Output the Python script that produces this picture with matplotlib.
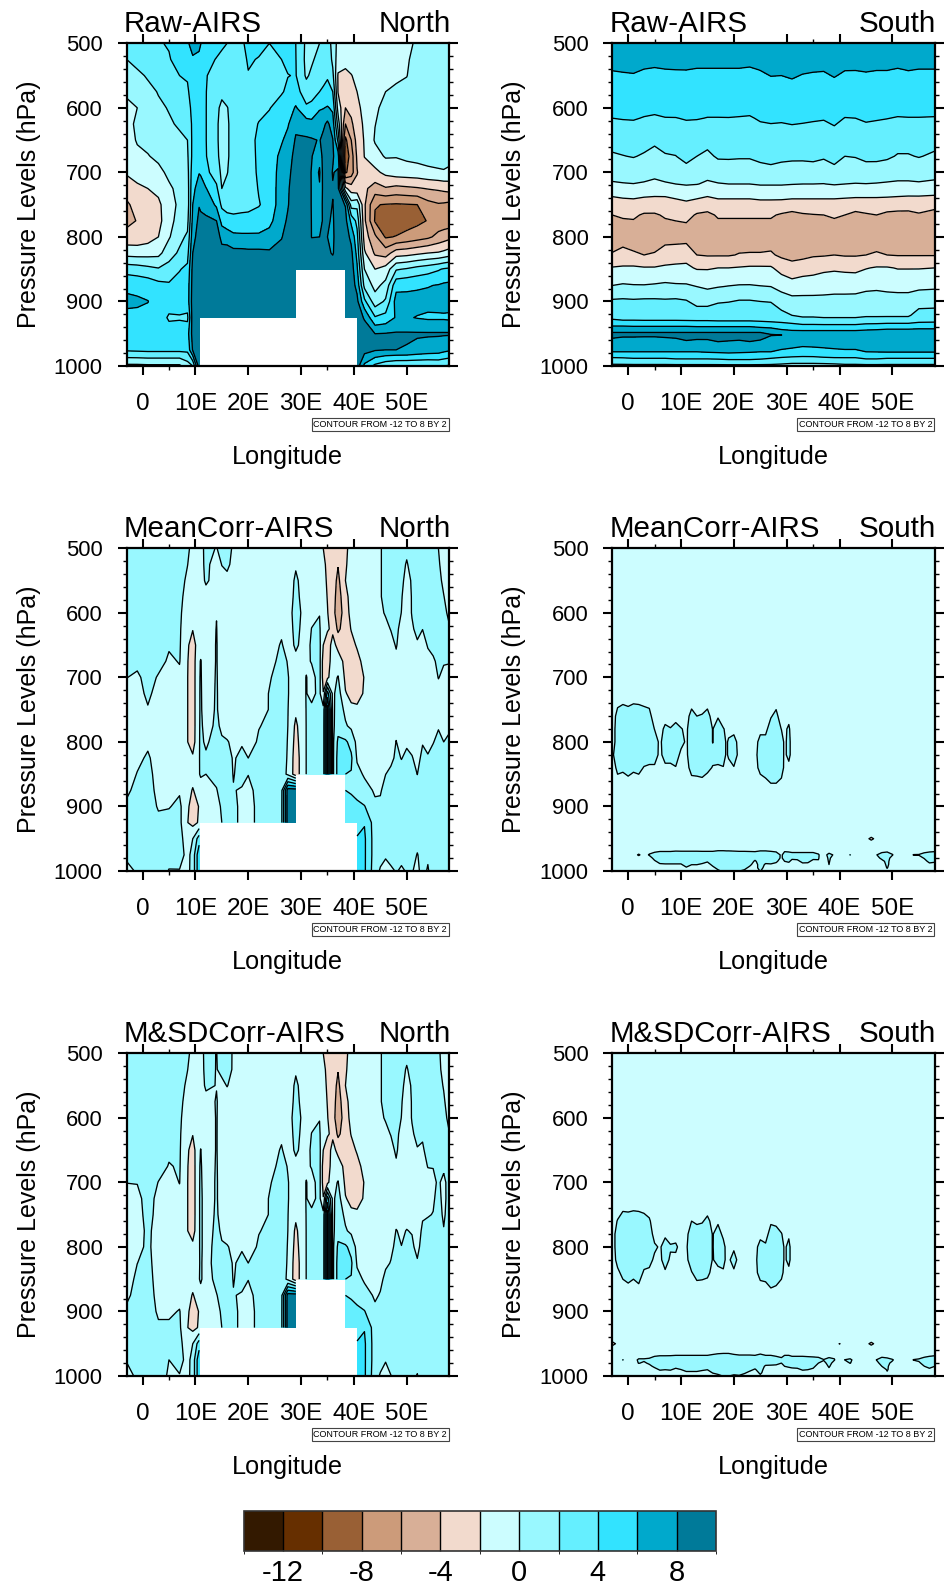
import numpy as np
import matplotlib
matplotlib.use('Agg')
import matplotlib.pyplot as plt
from matplotlib.colors import BoundaryNorm, ListedColormap
from matplotlib.cm import ScalarMappable

plt.rcParams['font.family'] = ['Liberation Sans', 'DejaVu Sans']
plt.rcParams['axes.unicode_minus'] = False

# BrownBlue12, one colour per interval of the -12..8 contours
colours = ['#331900', '#662F00', '#996035', '#CC9B7A', '#D8AF97', '#F2DACD',
           '#CCFDFF', '#99F8FF', '#65EFFF', '#32E3FF', '#00A9CC', '#007A99']
contour_levels = list(range(-12, 10, 2))

north_lon = [-3, -1, 1, 3, 5, 7, 8.5, 9.5, 10.7, 11, 12, 14, 15, 16, 17.2, 18.8, 20, 22, 24, 26.3, 27.5,
             29, 31, 32, 33.5, 34.2, 35, 36, 37, 38.4, 39.5, 40.6, 42, 44, 46, 48, 50, 52, 54, 56, 57, 58]
# the corrected panels zigzag more in the east, so they carry extra columns there
corr_lon = [-3, -1, 1, 3, 5, 7, 8.5, 9.5, 10.7, 11, 12, 14, 15, 16, 17.2, 18.8, 20, 22, 24, 26.3, 27.5,
            29, 31, 32, 33.5, 34.2, 35, 36, 37, 38.4, 39.5, 40.6, 42, 44, 45, 46, 47, 48, 49, 50, 51, 52, 53, 54, 55, 56, 57, 58]
north_p = list(range(500, 1001, 25))

# one list per longitude, top (500) to bottom (1000)
raw_north = [
    [2.6, 2.0, 1.1, 0.2, -0.3, -0.7, -1.0, -1.4, -1.8, -2.9, -4.4, -4.6, -3.2, -0.8, 3.2, 5.6, 6.4, 5.5, 5, 4.3, -0.5],
    [3.3, 2.6, 1.6, 0.9, 0, 0.4, 0.2, -0.5, -1.4, -2.3, -3.1, -3.9, -3.2, -0.9, 3, 5.4, 6.3, 5.5, 5, 4.4, -0.5],
    [3.6, 3, 2.2, 1.5, 1.1, 0.9, 0.5, -0.1, -1.2, -2, -2.9, -3.3, -2.8, -0.8, 2.6, 5.2, 6.05, 5.4, 5, 4.5, -0.4],
    [3.9, 3.3, 2.7, 2.1, 1.7, 1.4, 1, 0.4, -0.5, -1.5, -2.4, -2.6, -2, -0.6, 2.2, 4.6, 5.2, 5.2, 5, 4.5, -0.4],
    [4.1, 3.9, 3.4, 2.7, 2.1, 1.8, 1.5, 1, 0.4, -0.3, -0.8, -0.7, -0.2, 1.2, 2.7, 4.3, 5, 3.7, 5, 4.5, -0.4],
    [4.8, 4.5, 4, 3.5, 3, 2.2, 1.7, 1.3, 0.9, 0.5, 0.4, 0.8, 1.5, 2.3, 3.9, 4.6, 5, 3.8, 5, 4.5, -0.4],
    [5.9, 5, 4.2, 3.7, 3.2, 2.4, 2, 1.7, 1.3, 1, 0.9, 1.4, 2.3, 3.3, 4.4, 4.9, 5, 3.6, 5.2, 4.5, 1],
    [6.3, 5.9, 5.4, 5, 4.6, 4.5, 4.5, 4.6, 5.2, 5.7, 6, 6.6, 7.3, 8, 8.6, 8.8, 9, 9, 8.8, 8.2, 2],
    [6.2, 5.8, 5.3, 4.9, 4.7, 4.7, 4.8, 5.2, 5.95, 6.5, 7.9, 8.5, 8.9, 9, 9, 9, 9, 9, 9, 9, 9],
    [6.05, 5.5, 4.9, 4.5, 4.4, 4.4, 4.5, 4.8, 5.9, 6.4, 7.7, 8.4, 8.8, 9, 9, 9, 9, 9, 9, 9, 9],
    [5.4, 4.6, 4.1, 4.05, 4.05, 4.05, 4.05, 4.1, 4.5, 6.1, 7.6, 8.2, 8.8, 9, 9, 9, 9, 9, 9, 9, 9],
    [4.7, 3.9, 3.3, 2.8, 2.3, 2.3, 2.3, 2.4, 3, 4.4, 5.6, 8, 8.9, 9, 9, 9, 9, 9, 9, 9, 9],
    [4.3, 3.6, 2.9, 2.3, 1.7, 1.3, 1.3, 1.4, 1.6, 2, 3.6, 5.3, 7.5, 8.6, 9, 9, 9, 9, 9, 9, 9],
    [4.0, 3.5, 3, 2.5, 1.95, 1.85, 1.85, 1.85, 1.95, 2.3, 3.1, 4.9, 7, 9, 9, 9, 9, 9, 9, 9, 9],
    [3.6, 3.3, 3, 2.6, 2.4, 2.4, 2.4, 2.4, 2.5, 2.7, 3.3, 4.5, 6.5, 8.6, 9, 9, 9, 9, 9, 9, 9],
    [3.7, 3.4, 3.3, 3, 2.9, 2.9, 2.9, 2.9, 2.9, 3, 3.4, 4.6, 6.4, 8.6, 9, 9, 9, 9, 9, 9, 9],
    [4.6, 4.2, 3.9, 3.3, 3.2, 3.1, 3.1, 3.1, 3.1, 3.1, 3.5, 4.6, 6.4, 8.5, 9, 9, 9, 9, 9, 9, 9],
    [4.5, 3.9, 3.4, 3.2, 3.4, 4.1, 4.5, 4.4, 4.3, 4.1, 3.9, 4.7, 6.4, 8.5, 9, 9, 9, 9, 9, 9, 9],
    [4.0, 3.4, 3.1, 3.4, 3.9, 4.6, 4.8, 4.9, 4.9, 4.8, 4.6, 5.4, 6.8, 8.3, 9, 9, 9, 9, 9, 9, 9],
    [4.8, 4.0, 3.4, 3.8, 4.9, 5.4, 5.8, 6.5, 6.8, 7, 7.2, 7.5, 7.9, 8.6, 9, 9, 9, 9, 9, 9, 9],
    [5.1, 4.4, 3.95, 4.4, 5, 5.8, 6.6, 7.2, 7.5, 7.8, 7.9, 8.2, 8.7, 9, 9, 9, 9, 9, 9, 9, 9],
    [4.0, 4.05, 4.1, 4.7, 6.2, 7.6, 8.2, 8.6, 8.9, 9, 9, 9, 9, 9, 9, 9, 9, 9, 9, 9, 9],
    [1.6, 1.5, 1.7, 3, 4.3, 6.9, 8.3, 8.6, 8.8, 9, 9, 9, 9, 9, 9, 9, 9, 9, 9, 9, 9],
    [1.5, 1.7, 2.4, 3.3, 4.5, 6.6, 8.2, 8.1, 7.9, 7.9, 7.9, 7.95, 7.97, 8.6, 9, 9, 9, 9, 9, 9, 9],
    [2.0, 2.7, 3.3, 4.0, 5.8, 7.1, 7.9, 6.7, 5.7, 6.2, 7.2, 7.7, 8.0, 8.5, 9, 9, 9, 9, 9, 9, 9],
    [2.8, 3.2, 3.6, 4.2, 5.9, 7.6, 8.5, 8.7, 8.7, 8.5, 8.3, 8.1, 8.1, 8.6, 9, 9, 9, 9, 9, 9, 9],
    [3.5, 3.7, 3.9, 4.3, 6.2, 8.4, 8.8, 8.9, 8.9, 8.5, 8.4, 8.2, 8.0, 8.3, 9, 9, 9, 9, 9, 9, 9],
    [1, 1.5, 2.5, 4, 5.6, 7, 8.1, 8.2, 7.9, 8.1, 7.95, 7.8, 7.7, 7.85, 9, 9, 9, 9, 9, 9, 9],
    [-0.5, -1, -2.2, -2.1, -0.8, 1.2, 3.5, 7, 8.3, 8.5, 8.7, 9, 9, 9, 9, 9, 9, 9, 9, 9, 9],
    [-0.8, -1.2, -2.6, -3.2, -4, -6, -8.5, -9.5, -8.3, -1.5, 7.9, 8.6, 9, 9, 9, 9, 9, 9, 9, 9, 9],
    [-0.6, -0.9, -2.1, -2.7, -3.4, -4.4, -6, -7, -7, -3, 1, 5.5, 7.5, 8.5, 9, 9, 9, 9, 9, 9, 9],
    [-0.5, -0.8, -1.4, -2, -2.4, -2.8, -3.2, -3.7, -4.1, -3.4, 1.5, 3.4, 4.6, 5.4, 6.3, 7.4, 8.5, 9, 9, 9, 9],
    [-0.5, -0.7, -0.9, -1.3, -1.5, -1.7, -1.85, -1.95, -2.7, -3.6, -3.7, -3.6, -3, -1.7, 0, 1.4, 4.5, 7.8, 9, 8.8, 5.5],
    [-0.8, -0.8, -0.8, -0.6, -0.3, -0.05, 0.2, -0.8, -2.5, -4.9, -7.9, -8.2, -5.6, -4.3, -2.0, -0.6, 0.9, 4.2, 8, 8.2, 3.5],
    [-0.6, -0.5, -0.3, 0, 0.5, 0.8, 0.8, 0.2, -1.5, -4.2, -8.1, -8.8, -8.2, -4.9, -1.2, 0.6, 2.3, 4.7, 8.1, 8, 2.5],
    [-0.5, -0.4, -0.2, 0.2, 0.8, 1, 1, 0.1, -1, -4.6, -8.2, -9.2, -7.9, -3, 1.8, 5.4, 6.8, 6.2, 8.2, 8, 2],
    [-0.3, -0.2, -0.05, 0.5, 1, 1.2, 1.2, 0.4, -0.9, -4.4, -8.1, -8.9, -7.4, -2.8, 2.2, 5.6, 6.6, 6.2, 8.2, 7.9, 2],
    [0.2, 0.6, 0.9, 1.1, 1.3, 1.4, 1.4, 0.6, -0.8, -4.2, -8.0, -8.5, -6.9, -2.4, 2.8, 5.7, 6.7, 5.9, 8.2, 7.5, 2],
    [1, 1.1, 1.2, 1.3, 1.4, 1.4, 1.4, 0.8, -0.5, -3.9, -6.7, -7.9, -6.4, -2, 3.2, 5.9, 6.6, 5.7, 8.2, 7.2, 2],
    [1.2, 1.3, 1.3, 1.4, 1.4, 1.4, 1.4, 0.9, -0.3, -3.7, -6.2, -7.2, -5.4, -1.8, 3.8, 6.1, 6.7, 5.7, 8.2, 7, 2.2],
    [1.3, 1.4, 1.4, 1.4, 1.5, 1.5, 1.5, 0.9, -0.2, -3.5, -6.3, -7.2, -5, -1.5, 4.2, 6.3, 6.8, 5.7, 8.2, 6.6, 2],
    [1.4, 1.4, 1.4, 1.4, 1.5, 1.5, 1.5, 0.7, -0.4, -3.3, -6.5, -7.2, -4.6, -1.1, 4.4, 6.4, 6.9, 5.6, 8.2, 6.3, 1.8],
]

mean_north = [
    [1, 1, 1, 1, 1, 1, 1, .6, .05, -1, -1, -1, -1, -1, -1, -.5, .5, 1, 1, .7, -1],
    [1, 1, 1, 1, 1, 1, 1, .6, -.4, -.9, -1, -1, -1, -.5, .1, .8, 1, 1, 1, 1, .4],
    [1, 1, 1, 1, 1, 1, 1, 1, .8, .5, -.2, -.8, -.4, .3, .8, 1, 1, 1, 1, 1, .8],
    [1, 1, 1, 1, 1, 1, 1, .7, -.2, -.9, -1, -1, -1, -1, -1, -.7, -.2, .5, 1, 1, 1],
    [1, 1, 1, 1, .9, .7, .2, -.3, -.8, -1, -1, -1, -1, -1, -1, -.4, -.1, .6, 1, .7, -.1],
    [1, 1, .8, .5, .3, .2, .2, .1, -.4, -1, -1, -1, -1, -1, -1, -.2, .4, .5, .8, .8, -.1],
    [.5, .05, -.4, -.7, -.9, -1.1, -1.7, -1.9, -1.95, -1.95, -1.95, -1.95, -1.95, -1.9, -1.2, -1, -1.6, -1.95, -1.2, -.6, -.5],
    [-.8, -.9, -1, -1, -1.2, -1.9, -2.9, -3, -3, -3, -3, -3, -2.9, -1.7, -1, -2.2, -3, -2.6, 0, .7, .7],
    [-.7, -.8, -.9, -1, -1, -1, -.9, -.3, -.2, -.2, -.2, -.2, -.2, -.2, -.1, -.8, -1.9, -1.8, 3, 5.5, 5.5],
    [-.7, -.7, -.8, -1, -1, -1, -.8, .1, .15, .2, .2, .3, .4, .5, .2, -.8, -1, -1, -1, -1, -1],
    [.6, .5, .3, -.8, -1, -1, -1, -1, -1, -1, -.8, -.6, -.3, .3, 0, -.8, -1, -1, -1, -1, -1],
    [-.1, -.9, -.8, -.5, -.05, .05, .1, .1, .15, .2, .2, .3, .8, 1, .5, -.1, -.8, -1, -1, -1, -1],
    [.8, .05, -.6, -.7, -.8, -.9, -.9, -.9, -.9, -.9, -.8, -.3, .2, .9, 1, .7, .3, 0, -1, -1, -1],
    [1, .3, -.4, -.8, -1, -1, -1, -1, -1, -1, -1, -.6, .1, .8, 1, 1, 1, 1, -1, -1, -1],
    [-.4, -.4, -1, -1, -1, -1, -1, -1, -1, -1, -1, -.9, -.3, -.2, -.1, .1, 1, 1, -1, -1, -1],
    [-1, -1, -1, -1, -1, -1, -1, -1, -1, -1, -1, -1, -.2, .5, .7, -.2, -1, -1, -1, -1, -1],
    [-1, -1, -1, -1, -1, -1, -1, -1, -1, -1, -1, -1, -1, 0, .05, -.6, -1, -1, -1, -1, -1],
    [-1, -1, -1, -1, -1, -1, -1, -1, -1, -1, -.9, -.1, .3, .6, .7, .7, .7, .7, -1, -1, -1],
    [-1, -1, -1, -1, -1, -1, -1, -.7, -.2, .1, .1, .4, .7, 1, 1, 1, 1, 1, -1, -1, -1],
    [-1, -1, -1, -1, -1, -.4, .2, .6, 1, 1, 1, 1, 1, 1, 1, 1.5, 1.6, 1.6, -1, -1, -1],
    [-1, -1, -1, -1, -1, -1, -.9, -.1, .1, .1, .05, 0, -.1, -.2, -.4, 9, 9, 9, -1, -1, -1],
    [-1, -.2, .3, .5, .9, .6, .3, -.5, -1, -1, -1.6, -2.4, -2.7, -3, -3, 9, 9, 9, -1, -1, -1],
    [-1, -1, -1, -1, -1, -1, -.9, -.3, .05, .05, .05, .05, .05, .05, .05, -1, -1, -1, -1, -1, -1],
    [-1, -1, -1, -1, -.6, .05, .4, .1, -.5, -.4, .3, .7, .8, .9, .9, -1, -1, -1, -1, -1, -1],
    [-1, -1, -1, -.9, -.05, .2, .5, .6, .6, .4, .2, .7, .8, .9, .9, -1, -1, -1, -1, -1, -1],
    [-2, -1.6, -1.3, -1.1, -1, -1.2, -2, -2.8, -2.8, -1.9, .6, .8, .8, .8, .8, -1, -1, -1, -1, -1, -1],
    [-2.6, -2.4, -2.3, -2.1, -1.9, -1.8, -3, -3, -2.5, 5, 9, 9, 9, 9, 9, -1, -1, -1, -1, -1, -1],
    [-3, -3, -3, -3.2, -3.4, -2.4, -1.3, -1, -.5, -.5, -.5, -.5, -.5, -.5, -.5, -1, -1, -1, -1, -1, -1],
    [-3, -3.9, -4.5, -4.8, -4.9, -4.4, -2.6, -1, .1, .9, 1, 1.2, 2.4, 2.8, 2.8, -1, -1, -1, -1, -1, -1],
    [-2.6, -2.3, -2, -2.8, -3.2, -3, -2.7, -2.6, -2.4, -1.9, -.4, .2, 2.3, 2.5, 2, 2, 2.3, 3, 3, 3, 3],
    [-1, -1, -1, -1, -1.2, -1.9, -2.6, -3, -3, -2.4, -1.7, -.4, 1.4, 2.3, 1.9, 1.9, 2.3, 3, 3, 3, 3],
    [-1, -1, -1, -1, -1, -1, -1.8, -2.6, -3, -3, -1.5, -1, -.6, -.2, .5, 1.7, 2.2, 3, 4.2, 4.3, 4.3],
    [-1, -1, -1, -1, -1, -1, -1.1, -1.4, -1.9, -1.7, -1, -1, -1, -.8, -.2, .6, 2.1, 3.9, 4.3, 4.3, 4.3],
    [-1, -1, -1, -1, -1, -1, -1, -1, -1, -1, -1, -1, -1, -1, -.8, -.2, .3, 1, 1, 1, .8],
    [-.1, -.1, -.1, -.1, -.2, -.6, -1, -1, -1, -1, -1, -1, -1, -1, -.7, -.2, .4, 1, 1, .6, -.2],
    [.4, .4, .4, .4, .1, -.3, -.6, -.8, -1, -1, -1, -1, -.8, -.4, -.02, .7, 1, 1, .6, .1, -.3],
    [.6, .6, .6, .6, .4, .05, -.4, -.7, -1, -1, -1, -1, -1, -.4, .4, 1, 1, 1, 1, .6, -.3],
    [.9, .9, .9, .7, .5, .3, .1, -.3, -.7, -1, -1, -.5, .05, .3, .6, 1, 1, 1, 1, .5, .1],
    [.8, .7, .4, .1, -.02, -.4, -.6, -.8, -.9, -1, -1, -1, -.7, -.05, .5, 1, 1, 1, 1, .4, -.2],
    [.5, -.2, -.6, -.7, -.8, -.8, -.8, -.8, -.8, -.8, -.8, -.7, -.2, .3, .8, 1, 1, 1, 1, .9, .1],
    [.9, .8, .2, .1, .1, -.2, -.5, -.7, -.8, -.9, -.9, -.9, -.5, .1, .7, 1, 1, 1, 1, .7, .1],
    [1, 1, .9, .8, .7, .4, -.2, -.6, -.8, -.9, -.9, -.9, -.8, -.5, -.02, .7, 1, 1, .7, -.1, -.4],
    [1, 1, .9, .9, .7, .02, -.5, -.7, -.9, -.9, -.9, -.7, -.1, .4, .8, 1, 1, 1, 1, .7, .6],
    [1, 1, .9, .9, .8, .7, .1, -.4, -.7, -.8, -.8, -.6, -.3, .1, .7, 1, 1, 1, 1, .3, -.2],
    [1, 1, .9, .9, .8, .7, .4, -.2, -.6, -.8, -.7, -.4, -.05, .4, .9, 1, 1, 1, 1, 1, 1],
    [0, .2, .4, .5, .6, .7, .6, .3, .05, -.5, -.6, -.1, .3, .6, .9, 1, 1, 1, 1, 1, 1],
    [-.8, -.6, -.3, .05, .4, .5, .5, .1, -.3, -.8, -.9, -.6, 0, .5, 1, 1, 1, 1, 1, 1, 1],
    [-1, -1, -.8, -.6, -.3, .2, .3, .1, -.5, -1, -1, -.2, .2, .6, .9, 1, 1, 1, 1, 1, .9],
]

msd_north = [
    [1, 1, 1, 1, 1, 1, 1, .6, .05, -1, -1, -1, -1, -1, -1, -.5, .5, 1, 1, .2, -1],
    [1, 1, 1, 1, 1, 1, 1, .9, .1, -.7, -1, -1, -.6, -.02, .5, .9, 1, 1, 1, 1, .5],
    [1, 1, 1, 1, 1, 1, 1, 1, 1, 1, .9, .5, .4, .6, .9, 1, 1, 1, 1, 1, .9],
    [1, 1, 1, 1, 1, 1, 1, .7, -.05, -.7, -.9, -1, -1, -1, -1, -.7, -.3, .3, 1, 1, 1],
    [1, 1, 1, 1, .9, .7, .3, -.1, -.7, -1, -1, -1, -1, -1, -1, -.6, -.3, .3, .7, 0, -.3],
    [1, 1, .8, .5, .3, .2, .2, .15, .05, -.5, -1, -1, -1, -1, -1, -.6, .1, .3, .6, .6, -.1],
    [.5, .05, -.4, -.7, -.9, -1.1, -1.7, -1.9, -1.95, -1.95, -1.95, -1.95, -1.9, -1.2, -1.1, -1, -1.6, -1.95, -1.2, -.6, -.5],
    [-.8, -.9, -1, -1, -1.2, -1.9, -2.9, -3, -3, -3, -3, -2.9, -1.5, -1, -1, -2.2, -3, -2.6, 0, .7, .7],
    [-.7, -.8, -.9, -1, -1, -.8, -.3, -.2, -.2, -.2, -.2, -.2, -.2, -.2, -.1, -.8, -1.9, -1.8, 3, 5.5, 5.5],
    [-.7, -.7, -.8, -1, -1, -.6, .05, .2, .3, .4, .4, .4, .4, .3, .3, -.8, -1, -1, -1, -1, -1],
    [.6, .5, .3, -.6, -1, -1, -1, -1, -1, -1, -1, -1, -1, -1, -1, -1, -1, -1, -1, -1, -1],
    [-.05, -.05, -.05, .1, .1, .1, .1, .15, .2, .2, .3, .5, .8, 1, .6, -.1, -.7, -1, -1, -1, -1],
    [.8, .3, -.3, -.6, -.8, -.9, -.9, -.9, -.9, -.9, -.8, -.3, .2, .9, 1, .7, .3, 0, -1, -1, -1],
    [1, .9, .05, -.6, -.9, -1, -1, -1, -1, -1, -1, -.6, .1, .8, 1, 1, 1, 1, -1, -1, -1],
    [-.3, -.3, -.4, -.8, -1, -1, -1, -1, -1, -1, -1, -.9, -.3, -.2, -.1, .1, 1, 1, -1, -1, -1],
    [-1, -1, -1, -1, -1, -1, -1, -1, -1, -1, -1, -1, -.2, .5, .7, -.2, -1, -1, -1, -1, -1],
    [-1, -1, -1, -1, -1, -1, -1, -1, -1, -1, -1, -1, -1, 0, .05, -.6, -1, -1, -1, -1, -1],
    [-1, -1, -1, -1, -1, -1, -1, -1, -1, -1, -.9, -.1, .3, .6, .7, .7, .7, .7, -1, -1, -1],
    [-1, -1, -1, -1, -1, -1, -1, -.7, -.2, .1, .1, .4, .7, 1, 1, 1, 1, 1, -1, -1, -1],
    [-1, -1, -1, -1, -1, -.4, .2, .6, 1, 1, 1, 1, 1, 1, 1, 1.5, 1.6, 1.6, -1, -1, -1],
    [-1, -1, -1, -1, -1, -1, -.9, -.1, .1, .1, .05, 0, -.1, -.2, -.4, 9, 9, 9, -1, -1, -1],
    [-1, -.2, .3, .5, .9, .6, .3, -.5, -1, -1, -1.6, -2.4, -2.7, -3, -3, 9, 9, 9, -1, -1, -1],
    [-1, -1, -1, -1, -1, -1, -.9, -.3, .05, .05, .05, .05, .05, .05, .05, -1, -1, -1, -1, -1, -1],
    [-1, -1, -1, -1, -.6, .05, .4, .1, -.5, -.4, .3, .7, .8, .9, .9, -1, -1, -1, -1, -1, -1],
    [-1, -1, -1, -.9, -.05, .2, .5, .6, .6, .4, .2, .7, .8, .9, .9, -1, -1, -1, -1, -1, -1],
    [-2, -1.6, -1.3, -1.1, -1, -1.2, -2, -2.8, -2.8, -1.9, .6, .8, .8, .8, .8, -1, -1, -1, -1, -1, -1],
    [-2.6, -2.4, -2.3, -2.1, -1.9, -1.8, -3, -3, -2.5, 5, 9, 9, 9, 9, 9, -1, -1, -1, -1, -1, -1],
    [-3, -3, -3, -3.2, -3.4, -2.4, -1.3, -1, -.5, -.5, -.5, -.5, -.5, -.5, -.5, -1, -1, -1, -1, -1, -1],
    [-3, -3.9, -4.5, -4.8, -4.9, -4.4, -2.6, -1, .1, .9, 1, 1.2, 2.4, 2.8, 2.8, -1, -1, -1, -1, -1, -1],
    [-2.6, -2.3, -2, -2.8, -3.2, -3, -2.7, -2.6, -2.4, -1.9, -.4, .2, 2.3, 2.5, 2, 2, 2.3, 3, 3, 3, 3],
    [-1, -1, -1, -1, -1.2, -1.9, -2.6, -3, -3, -2.4, -1.7, -.4, 1.4, 2.3, 1.9, 1.9, 2.3, 3, 3, 3, 3],
    [-1, -1, -1, -1, -1, -1, -1.8, -2.6, -3, -3, -1.5, -1, -.6, -.2, .5, 1.7, 2.2, 3, 4.2, 4.3, 4.3],
    [-1, -1, -1, -1, -1, -1, -1.1, -1.4, -1.9, -1.7, -1, -1, -1, -.8, -.2, .6, 2.1, 3.9, 4.3, 4.3, 4.3],
    [-1, -1, -1, -1, -1, -1, -1, -1, -1, -1, -1, -1, -1, -1, -.8, -.2, .3, 1, 1, 1, .8],
    [-.1, -.1, -.1, -.1, -.2, -.6, -1, -1, -1, -1, -1, -1, -1, -.8, -.3, .1, .6, 1, 1, .7, -.2],
    [.4, .4, .4, .4, .1, -.3, -.6, -.8, -1, -1, -1, -1, -.7, -.2, .3, .8, 1, 1, .6, .05, -.3],
    [.6, .6, .6, .6, .4, .05, -.4, -.7, -1, -1, -1, -.7, -.2, .05, .6, 1, 1, 1, 1, .7, -.05],
    [.9, .9, .9, .7, .5, .35, .2, -.2, -.7, -1, -.5, .05, .2, .6, 1, 1, 1, 1, 1, 1, .8],
    [.8, .7, .4, .1, -.02, -.4, -.6, -.8, -.9, -1, -.7, -.2, .02, .5, 1, 1, 1, 1, 1, 1, 1],
    [.6, -.2, -.6, -.7, -.8, -.8, -.8, -.8, -.8, -.8, -.5, .05, .3, .6, 1, 1, 1, 1, 1, 1, 1],
    [.9, .8, .2, .1, .1, -.2, -.5, -.7, -.8, -.8, -.5, -.1, .3, .7, 1, 1, 1, 1, 1, .8, .6],
    [1, 1, .9, .8, .7, .4, -.1, -.5, -.8, -.9, -.9, -.8, -.5, .2, .8, 1, 1, 1, 1, .6, -.1],
    [1, 1, .9, .9, .7, .2, -.2, -.5, -.6, -.5, -.2, .3, .7, 1, 1, 1, 1, 1, 1, 1, 1],
    [1, 1, .9, .9, .8, .7, .5, .05, -.5, -.3, -.1, .5, .7, 1, 1, 1, 1, 1, 1, .6, .3],
    [1, 1, .9, .9, .8, .7, .6, .05, -.3, -.2, .05, .6, .8, 1, 1, 1, 1, 1, 1, 1, 1],
    [.3, .4, .5, .6, .7, .7, .7, .6, .2, .5, .7, 1, 1, 1, 1, 1, 1, 1, 1, 1, 1],
    [-.7, -.5, -.1, .2, .4, .5, .5, .3, -.4, -.5, -.3, .1, .5, 1, 1, 1, 1, 1, 1, 1, 1],
    [-1, -1, -.9, -.7, -.3, .1, .3, .5, .6, .7, .8, .9, 1, 1, 1, 1, 1, 1, 1, 1, 1],
]

raw_south_lon = [-3, -1, 1, 3, 5, 7, 9, 11, 13, 15, 17, 19, 21, 23, 25, 27, 29, 31, 33, 35,
                 37, 39, 41, 43, 45, 47, 49, 51, 53, 55, 58]
raw_south_p = [500, 541, 580, 616, 675, 718, 741, 766, 797, 828, 848, 877, 898, 921.5, 929, 939, 948, 952, 957, 978, 989, 1000]
raw_south = [
    [7.2, 6.04, 5, 4, 1.76, -.18, -2.32, -4, -5, -3.85, -1.87, .12, 2.12, 3.57, 4.1, 6.2, 8, 8.5, 8, 6, 3.55, 1.5],
    [7.2, 6.11, 5, 4.08, 1.94, -.09, -2.09, -3.79, -5, -3.35, -1.77, .32, 2.2, 3.54, 4, 6.2, 8, 8.5, 7.7, 6, 3.64, 1.5],
    [7.2, 6.17, 5, 4.11, 2.1, -.03, -2, -3.71, -5, -3.75, -1.7, .2, 2.12, 3.53, 4, 6.1, 8, 8.5, 7.7, 6, 3.82, 1.5],
    [7.2, 5.97, 5, 3.93, 1.8, -.15, -2.23, -4.21, -5, -4, -1.87, .2, 2.2, 3.52, 3.95, 6.1, 8, 8.5, 7.6, 6, 3.82, 1.5],
    [7.2, 5.89, 5, 3.82, 1.34, -.3, -2.32, -4.21, -5, -3.85, -1.87, .32, 2.2, 3.52, 3.95, 6.1, 8, 8.5, 7.6, 6, 3.82, 1.5],
    [7.2, 5.97, 5, 3.96, 1.84, -.15, -2.32, -3.79, -5, -3, -1.73, .48, 2.12, 3.56, 3.95, 6.1, 8, 8.5, 7.85, 6, 3.82, 1.5],
    [7.2, 6, 5, 3.97, 1.96, 0, -2, -3.58, -5, -2.85, -1.64, .32, 2.2, 3.52, 3.95, 6.1, 8, 8.5, 8, 6, 4, 1.5],
    [7.2, 6.01, 5, 4.08, 2.64, .15, -1.78, -3.37, -5, -2.65, -1.64, .28, 2, 3.45, 3.9, 6.1, 8, 8.5, 8.4, 6, 4, 1.5],
    [7.2, 5.93, 5, 4.08, 2, .06, -2, -4.21, -5, -4, -2.18, 0, 1.2, 3.16, 3.85, 6, 8, 8.5, 8.2, 6, 4, 1.5],
    [7.2, 5.93, 5, 3.96, 1.6, -.24, -2.32, -4.42, -5, -4.15, -2.18, -.28, 1.2, 3.16, 3.85, 6, 8, 8.5, 8.2, 6.15, 4, 1.5],
    [7.2, 5.93, 5, 3.96, 2.24, -.09, -2, -3.79, -5, -4.15, -2, -.08, 1.68, 3.3, 3.75, 6, 8, 8.5, 8.6, 6.25, 4.09, 1.5],
    [7.2, 5.93, 5, 3.97, 2.26, 0, -2, -3.79, -5, -4.15, -2, .08, 1.8, 3.33, 3.75, 6, 8, 8.5, 8.4, 6.35, 4.27, 1.5],
    [7.2, 5.93, 5, 3.93, 2.2, 0, -2, -3.79, -5, -3.9, -1.87, .2, 2, 3.38, 3.75, 6, 8, 8.5, 8.3, 6.25, 4.27, 1.5],
    [7.2, 5.86, 5, 3.88, 2.2, 0, -2, -3.79, -5, -3.85, -1.73, .2, 2, 3.38, 3.75, 6, 8, 8.5, 8.6, 6.15, 4.27, 1.5],
    [7.2, 6.03, 5, 4.15, 2.54, .15, -1.87, -3.79, -5, -3.85, -1.73, .08, 1.88, 3.31, 3.65, 5.7, 8, 8.5, 8.3, 6, 4.09, 1.5],
    [7.2, 6.35, 5, 4.2, 2.8, .15, -1.87, -3.79, -5, -3.75, -1.77, 0, 1.8, 3.23, 3.5, 5.5, 7.7, 8.1, 7.6, 6, 3.82, 1.5],
    [7.2, 6.3, 5, 4.2, 2.5, .15, -1.87, -4.21, -5, -4.35, -2.77, -.55, .83, 2.6, 3.4, 5.1, 6.9, 8.02, 7.2, 5.75, 3.55, 1.4],
    [7.2, 6.58, 5, 4.33, 2.4, .06, -2, -4.54, -5, -4.6, -3.32, -1.06, .5, 2, 3.1, 4.9, 6.6, 7.2, 7.2, 5.55, 3.37, 1.2],
    [7.2, 6.21, 5, 4.25, 2.4, 0, -2, -4.21, -5, -4.5, -2.98, -.83, .43, 1.71, 2.56, 4.74, 6.6, 7, 7.2, 5.25, 3.37, 1.2],
    [7.2, 6.11, 5, 4.15, 2.5, 0, -2, -4.08, -5, -4.2, -2.76, -.8, .43, 1.71, 2.56, 4.74, 6.6, 7, 7.2, 5.35, 3.37, 1.2],
    [7.2, 6.07, 5, 4.1, 2.24, -.03, -2, -4, -5, -4.15, -2.43, -.68, .42, 1.65, 2.4, 4.74, 6.6, 7, 7.2, 5.5, 3.55, 1.2],
    [7.2, 6.44, 5, 4.3, 2.8, .12, -2, -3.79, -5, -4, -2.3, -.6, .48, 1.65, 2.4, 4.74, 6.6, 7, 7.2, 5.65, 3.64, 1.3],
    [7.2, 6.04, 5, 3.97, 2, 0, -2.09, -4, -5, -4.15, -2.43, -.6, .48, 1.65, 2.4, 4.74, 6.6, 7, 7.2, 5.75, 3.64, 1.5],
    [7.2, 6.03, 5, 4, 2.1, -.06, -2.18, -4.5, -5, -4.15, -2.5, -.6, .52, 1.65, 2.4, 4.74, 6.6, 7, 7.2, 5.75, 3.64, 1.5],
    [7.2, 6.1, 5, 4.18, 2.5, -.03, -2.18, -4.21, -5, -4, -2.1, -.36, .67, 1.75, 2.7, 5, 6.7, 7.1, 7.2, 6, 4, 1.5],
    [7.2, 6.03, 5, 4.1, 2.5, -.09, -2.18, -4, -5, -3.8, -1.85, -.28, .7, 1.75, 2.7, 5.1, 6.8, 7.1, 7.2, 6.05, 4, 1.5],
    [7.2, 6.03, 5, 4.03, 2.3, -.18, -2.23, -4.42, -5, -4, -1.85, -.4, .62, 1.75, 2.77, 5.3, 6.9, 7.2, 7.2, 6.1, 3.82, 1.5],
    [7.2, 5.93, 5, 3.93, 1.86, -.24, -2.32, -4.54, -5, -4.1, -2.1, -.47, .59, 1.75, 2.77, 5.3, 6.9, 7.2, 7.2, 6.1, 3.82, 1.5],
    [7.2, 6.04, 5, 3.96, 1.86, -.24, -2.41, -4.54, -5, -4.1, -2.1, -.47, .59, 1.75, 2.77, 5.3, 6.9, 7.2, 7.2, 6.1, 3.82, 1.5],
    [7.2, 5.97, 5, 3.96, 2.1, -.18, -2.41, -4.21, -5, -4.1, -2.1, -.33, .97, 2.8, 3.3, 5.4, 7, 7.2, 7.2, 6.1, 3.82, 1.5],
    [7.2, 5.97, 5, 3.93, 1.7, -.3, -2.54, -4.75, -5, -4.1, -2, -.25, 1.07, 2.85, 3.4, 5.4, 7, 7.2, 7.2, 6.1, 3.82, 1.5],
]

# the two bias corrected south panels stay at one level nearly everywhere
thin_lon = list(range(-3, 19)) + [18.6] + list(range(19, 30)) + [29.6, 30.4] + list(range(31, 59))
thin_p = [500, 725, 740, 760, 780, 800, 820, 840, 860, 880, 945, 950, 955, 965, 970, 975, 980, 985, 990, 995, 1000]
quiet = [-1, -1, -1, -1, -1, -1, -1, -1]

# 740..880 hPa for longitudes up to 31
mean_south_upper = [
    quiet[:4] + [-.3] + quiet[:3],
    [-.35, .65, 1, 1, 1, .5, -.5, -1], [-.1, .9, 1, 1, 1, .35, -.65, -1], [-.25, .75, 1, 1, 1, .65, -.35, -1],
    [-.05, .95, 1, 1, 1, .35, -.65, -1], [-.1, .9, 1, 1, 1, .5, -.5, -1], [-.25, .75, 1, 1, .9, -.1, -1, -1],
    [-.4, .6, 1, 1, .75, -.25, -1, -1], [-1, -1, -.05, .95, .75, -.25, -1, -1], [-1, -1, -.6, -.4, -.4, -.6, -1, -1],
    [-1, -.65, .35, 1, .65, -.35, -1, -1], [-1, -.9, .1, 1, .65, -.35, -1, -1], [-1, -.5, .5, 1, .9, -.1, -1, -1],
    [-1, -.9, .1, .55, -.45, -1, -1, -1], [-1, -.6, -.3, -.25, -.3, -.6, -1, -1], [-.45, .55, 1, 1, 1, .6, -.4, -1],
    [-1, 0, 1, 1, 1, .65, -.35, -1], [-.85, .15, 1, 1, 1, .75, -.25, -1], [-.45, .55, 1, 1, 1, .4, -.6, -1],
    [-1, -.6, -.05, -.05, .5, -.1, -1, -1], [-1, -.15, .85, 1, .75, -.25, -1, -1], [-1, -.9, .1, 1, .9, -.1, -1, -1],
    [-1, -1, -.3, -.3, -.3, -.3, -1, -1],
    [-1, -1, -.7, .3, .3, -.7, -1, -1], [-1, -1, -.45, .55, .9, -.1, -1, -1], [-1, -1, -1, -.5, -.5, -1, -1, -1],
    quiet, quiet, [-1, -1, -1, -.6, -.6, -.6, -1, -1],
    [-1, -1, -.45, .55, 1, .5, -.5, -1], [-1, -1, -.45, .55, 1, .8, -.2, -1], [-1, -.15, .85, 1, 1, 1, .2, -.8],
    [-.5, .5, 1, 1, 1, 1, .2, -.8], [-1, -1, -.05, .95, 1, .8, -.2, -1],
    [-1, -1, -.4, -.4, -.4, -.4, -1, -1], [-1, -.65, .35, .6, .6, -.6, -1, -1], [-1, -1, -1, -.8, -.8, -1, -1, -1],
]
msd_south_upper = [
    quiet,
    [-.88, .12, 1, 1, .6, -.4, -1, -1], [-.25, .75, 1, 1, 1, .5, -.5, -1], [-.3, .7, 1, 1, 1, .8, -.2, -1],
    [-.2, .8, 1, 1, 1, .5, -.5, -1], [-.25, .75, 1, 1, 1, .85, -.15, -1], [-.4, .6, 1, 1, .75, -.25, -1, -1],
    [-.75, .25, 1, 1, .6, -.4, -1, -1], [-1, -1, -.7, .3, -.35, -1, -1, -1], [-1, -1, -.9, -.2, -.4, -1, -1, -1],
    [-1, -1, -.3, .7, .75, -.25, -1, -1], [-1, -1, -.8, .2, -.3, -1, -1, -1], [-1, -1, -.7, .3, -.4, -1, -1, -1],
    [-1, -1, -1, -.6, -.8, -1, -1, -1], [-1, -.8, -.5, -.2, -.4, -.8, -1, -1], [-1, 0, 1, 1, .9, -.1, -1, -1],
    [-1, -.27, .75, 1, 1, .6, -.4, -1], [-1, -.15, .85, 1, 1, .55, -.45, -1], [-.6, .4, 1, 1, 1, .4, -.6, -1],
    [-1, -.5, -.1, -.1, -.1, -.5, -1, -1], [-1, -.27, .75, 1, .5, -.5, -1, -1], [-1, -1, -.4, .6, .7, -.3, -1, -1],
    [-1, -1, -.8, -.5, -.5, -.8, -1, -1],
    [-1, -1, -1, -1, -.3, -.6, -1, -1], [-1, -1, -1, -.3, .7, -.3, -1, -1], [-1, -1, -1, -1, -.6, -.6, -1, -1],
    quiet, quiet, [-1, -1, -1, -.5, -.5, -.5, -1, -1],
    [-1, -1, -.45, .55, 1, .6, -.4, -1], [-1, -1, -.7, .3, 1, .7, -.3, -1], [-1, -.27, .75, 1, 1, 1, .18, -.82],
    [-1, -.4, .6, 1, 1, 1, 0, -1], [-1, -.91, .09, 1, 1, .5, -.5, -1],
    [-1, -1, -.5, -.3, -.3, -.5, -1, -1], [-1, -1, -.3, .5, .5, -.5, -1, -1], [-1, -1, -1, -.8, -.8, -1, -1, -1],
]

# 965..1000 hPa for every longitude
mean_south_lower = [
    quiet, quiet, quiet, quiet, quiet,
    [-1, -1, .3, -1, -1, -1, -1, -1], quiet, [-1, -.6, .2, -1, -1, -1, -1, -1], [-1, -.2, .8, .7, -.3, -1, -1, -1],
    [-1, .05, 1, 1, .7, -.3, -1, -1], [-1, .05, 1, 1, .8, -.2, -1, -1], [-1, .05, 1, 1, .8, -.2, -1, -1],
    [-1, .2, 1, 1, .8, -.2, -1, -1], [-1, .15, 1, 1, .8, -.2, -1, -1], [-1, .15, 1, 1, 1, .8, -.2, -1],
    [-1, .15, 1, 1, 1, .05, -.9, -1], [-1, .15, 1, 1, 1, .05, -.9, -1], [-1, .1, 1, 1, .7, -.3, -1, -1],
    [-1, .1, 1, 1, .2, -.8, -1, -1], [-1, .1, 1, 1, 1, .5, -.5, -1], [-1, .4, 1, 1, 1, 1, .6, -.4],
    [-1, .4, 1, 1, 1, 1, 1, .4], [-1, .3, 1, 1, 1, 1, 1, .2], [-1, .3, 1, 1, 1, 1, 1, .1], [-1, .2, 1, 1, 1, 1, 1, -.1],
    [-1, .1, 1, 1, 1, 1, 1, .05], [-1, .1, 1, 1, 1, 1, .6, -.4], [-1, .05, 1, 1, 1, .5, -.5, -1],
    [-1, 0, .9, .7, -.3, -1, -1, -1], [-1, .3, 1, 1, 1, 1, 1, .1], [-1, .3, 1, 1, .7, -.3, -1, -1],
    [-1, .1, 1, 1, .8, -.2, -1, -1], [-1, -.1, .9, .8, .4, -.6, -1, -1], [-1, -1, -.3, -.3, -1, -1, -1, -1],
    [-1, 0, .8, .8, 0, -1, -1, -1], [-1, -.1, .8, .8, .3, -.7, -1, -1], [-1, -.3, .8, .4, -.6, -1, -1, -1],
    [-1, -.3, .8, .5, -.5, -1, -1, -1], [-1, -.3, .8, .8, .5, -.5, -1, -1], [-1, -.3, .8, .8, .4, -.5, -1, -1],
    [-1, -.3, .8, .4, -.5, -1, -1, -1], [-1, -.3, .1, .1, -.1, -1, -1, -1], [-1, -1, -.7, -1, -1, -1, -1, -1],
    [-1, -.5, .5, .3, .15, 0, -.5, -1], [-1, -.8, -.2, -.8, -1, -1, -1, -1], quiet, quiet,
    [-1, -1, .05, -1, -1, -1, -1, -1], quiet, quiet, quiet, quiet,
    [-1, -1, -.05, -.6, -1, -1, -1, -1], [-1, -.3, .7, .4, -.5, -1, -1, -1], [-1, -.1, .8, .6, .5, .4, .1, -.5],
    [-1, -.5, .1, -.6, -1, -1, -1, -1], quiet, quiet, quiet, [-1, -1, .1, -1, -1, -1, -1, -1],
    [-1, -.7, .1, -.7, -1, -1, -1, -1], [-1, -.4, .7, .1, -.7, -1, -1, -1], [-1, -.1, .8, .8, .5, -.5, -1, -1],
    [-1, 0, .8, .8, .3, -.7, -1, -1],
]
msd_south_lower = [
    quiet, quiet, [-1, -1, .05, -1, -1, -1, -1, -1], quiet, quiet,
    [-1, -.8, .4, .1, -1, -1, -1, -1], [-1, -.6, .3, -.3, -1, -1, -1, -1], [-1, -.5, .5, .3, -.5, -1, -1, -1],
    [-1, .1, .8, .8, .4, -.6, -1, -1], [-.8, .3, 1, 1, 1, .2, -.8, -1], [-.8, .3, 1, 1, 1, .05, -.9, -1],
    [-.7, .3, 1, 1, 1, .2, -.8, -1], [-.6, .4, 1, 1, .6, -.4, -1, -1], [-.6, .4, 1, 1, 1, 0, -1, -1],
    [-.6, .4, 1, 1, 1, .6, -.4, -1], [-.6, .4, 1, 1, 1, .6, -.4, -1], [-.6, .4, 1, 1, 1, .6, -.4, -1],
    [-.6, .4, 1, 1, 1, .3, -.7, -1], [-.6, .4, 1, 1, 1, .05, -.9, -1], [-.3, .6, 1, 1, 1, 1, .1, -.9],
    [-.1, .9, 1, 1, 1, 1, .5, -.5], [0, 1, 1, 1, 1, 1, 1, .1], [0, 1, 1, 1, 1, 1, 1, .1], [0, 1, 1, 1, 1, 1, 1, .05],
    [-.3, .7, 1, 1, 1, 1, .5, -.3], [-.5, .5, 1, 1, 1, 1, .8, -.2], [-.5, .5, 1, 1, 1, 1, .25, -.75],
    [-.5, .5, 1, 1, 1, .5, -.5, -1], [-.6, .4, 1, 1, .8, -.2, -1, -1], [-.2, .8, 1, 1, 1, 1, .4, -.4],
    [-.6, .4, 1, .7, -.3, -1, -1, -1], [-.6, .4, 1, .7, -.4, -1, -1, -1], [-.9, .1, 1, .6, -.5, -1, -1, -1],
    [-1, -.3, .7, 0, -1, -1, -1, -1], [-.6, .4, 1, .7, 0, -1, -1, -1], [-.6, .4, 1, .8, .3, -.7, -1, -1],
    [-.9, .1, 1, 1, .5, -.5, -1, -1], [-.9, .1, 1, 1, .6, -.4, -1, -1], [-.9, .1, 1, 1, 1, .2, -.8, -1],
    [-.9, 0, 1, 1, 1, .05, -.9, -1], [-.9, -.1, 1, 1, .6, -.4, -1, -1], [-.9, -.2, .7, 0, -1, -1, -1, -1],
    [-1, -.8, .1, -.4, -1, -1, -1, -1], [-1, -.3, .7, .5, .2, -.3, -1, -1], [-1, -.2, .1, -.5, -1, -1, -1, -1],
    quiet, [-1, -1, .05, -1, -1, -1, -1, -1], [-1, -1, .5, .1, -1, -1, -1, -1], quiet, quiet, quiet, quiet,
    [-1, -1, .05, -.4, -1, -1, -1, -1], [-1, -.2, .8, .5, 0, -1, -1, -1], [-1, -.4, .6, .4, .3, .2, -.2, -1],
    [-1, -1, .2, -.4, -1, -1, -1, -1], quiet, quiet, quiet, [-1, -1, .1, -1, -1, -1, -1, -1],
    [-1, -.7, .3, -.3, -1, -1, -1, -1], [-1, -.2, .8, .6, -.05, -1, -1, -1], [-.9, .1, .8, .8, .6, -.4, -1, -1],
    [-.8, .3, .8, .6, 0, -1, -1, -1],
]
# small negative spots on the 950 hPa level
mean_south_950 = [-1] * 51 + [-2.8] + [-1] * 12
msd_south_950 = [-3.5] + [-1] * 44 + [-2.1] + [-1] * 5 + [-2.8] + [-1] * 12

W, H = 946, 1589
fig = plt.figure(figsize=(W / 100, H / 100), dpi=100)


def px_axes(left, top, right, bottom):
    return fig.add_axes([left / W, 1 - bottom / H, (right - left) / W, (bottom - top) / H])


def north_field(cols, lon_list):
    z = np.array(cols, dtype=float).T
    lon = np.array(lon_list)
    p = np.array(north_p)
    # below ground: white steps in the cross section
    z[np.ix_(p > 925, (lon > 10.7) & (lon < 40.6))] = np.nan
    z[np.ix_(p > 850, (lon > 29) & (lon < 38.4))] = np.nan
    return z


def thin_field(upper, lower, row950):
    z = np.full((len(thin_p), len(thin_lon)), -1.0)
    z[2:10, :37] = np.array(upper, dtype=float).T
    z[11, :] = row950
    z[13:, :] = np.array(lower, dtype=float).T
    return z


def panel(ax, lon, pres, z, left_title, right_title):
    edges = [-100] + contour_levels + [100]
    ax.contourf(lon, pres, z, levels=edges, colors=colours, corner_mask=False)
    ax.contour(lon, pres, z, levels=contour_levels, colors='k', linewidths=0.95,
               linestyles='solid', corner_mask=False)
    ax.set_xlim(-3, 58)
    ax.set_ylim(1000, 500)
    ax.set_xticks([0, 10, 20, 30, 40, 50])
    ax.set_xticklabels(['0', '10E', '20E', '30E', '40E', '50E'])
    ax.set_xticks([5, 35], minor=True)
    ax.set_yticks(range(500, 1001, 100))
    ax.set_yticks(range(500, 1001, 20), minor=True)
    ax.tick_params(which='major', top=True, right=True, length=6.7, width=1.5)
    ax.tick_params(which='minor', top=True, right=True, length=3.1, width=1.0)
    ax.tick_params(axis='x', which='major', pad=13, labelsize=17.5)
    ax.tick_params(axis='y', which='major', pad=10.5, labelsize=15.8)
    for s in ax.spines.values():
        s.set_linewidth(1.6)
    ax.set_xlabel('Longitude', fontsize=18.2, va='center')
    ax.xaxis.set_label_coords(0.5, -91 / 322.7)
    ax.set_ylabel('Pressure Levels (hPa)', fontsize=18, va='center')
    ax.yaxis.set_label_coords(-98 / 322.4, 0.5)
    ax.annotate(left_title, (0, 1), xycoords='axes fraction', xytext=(-2, 8), textcoords='offset points',
                fontsize=21.3, ha='left', va='baseline')
    ax.annotate(right_title, (1, 1), xycoords='axes fraction', xytext=(1, 8), textcoords='offset points',
                fontsize=21.3, ha='right', va='baseline')
    ax.annotate('CONTOUR FROM -12 TO 8 BY 2', (1, 0), xycoords='axes fraction', xytext=(-1.5, -42.3),
                textcoords='offset points', fontsize=6.45, ha='right', va='center',
                bbox=dict(boxstyle='square,pad=0.2', fc='white', ec='#444444', lw=0.8))


row_tops = [43.3, 548.3, 1053.3]
ax1 = px_axes(126.7, row_tops[0], 449, row_tops[0] + 322.7)
ax2 = px_axes(612.3, row_tops[0], 934.7, row_tops[0] + 322.7)
ax3 = px_axes(126.7, row_tops[1], 449, row_tops[1] + 322.7)
ax4 = px_axes(612.3, row_tops[1], 934.7, row_tops[1] + 322.7)
ax5 = px_axes(126.7, row_tops[2], 449, row_tops[2] + 322.7)
ax6 = px_axes(612.3, row_tops[2], 934.7, row_tops[2] + 322.7)

panel(ax1, north_lon, north_p, north_field(raw_north, north_lon), 'Raw-AIRS', 'North')
panel(ax2, raw_south_lon, raw_south_p, np.array(raw_south, dtype=float).T, 'Raw-AIRS', 'South')
panel(ax3, corr_lon, north_p, north_field(mean_north, corr_lon), 'MeanCorr-AIRS', 'North')
panel(ax4, thin_lon, thin_p, thin_field(mean_south_upper, mean_south_lower, mean_south_950), 'MeanCorr-AIRS', 'South')
panel(ax5, corr_lon, north_p, north_field(msd_north, corr_lon), 'M&SDCorr-AIRS', 'North')
panel(ax6, thin_lon, thin_p, thin_field(msd_south_upper, msd_south_lower, msd_south_950), 'M&SDCorr-AIRS', 'South')

# label bar
cax = px_axes(243.5, 1511, 716, 1551)
bounds = list(range(-14, 12, 2))
sm = ScalarMappable(norm=BoundaryNorm(bounds, len(colours)), cmap=ListedColormap(colours))
cb = fig.colorbar(sm, cax=cax, orientation='horizontal', ticks=[-12, -8, -4, 0, 4, 8],
                  spacing='uniform', drawedges=True)
cb.ax.tick_params(length=0, labelsize=21, pad=6)
cb.dividers.set_linewidth(1.0)
cb.dividers.set_color('k')
cb.outline.set_linewidth(1.2)
cb.outline.set_edgecolor('#333333')

fig.savefig('out.png', dpi=100)
